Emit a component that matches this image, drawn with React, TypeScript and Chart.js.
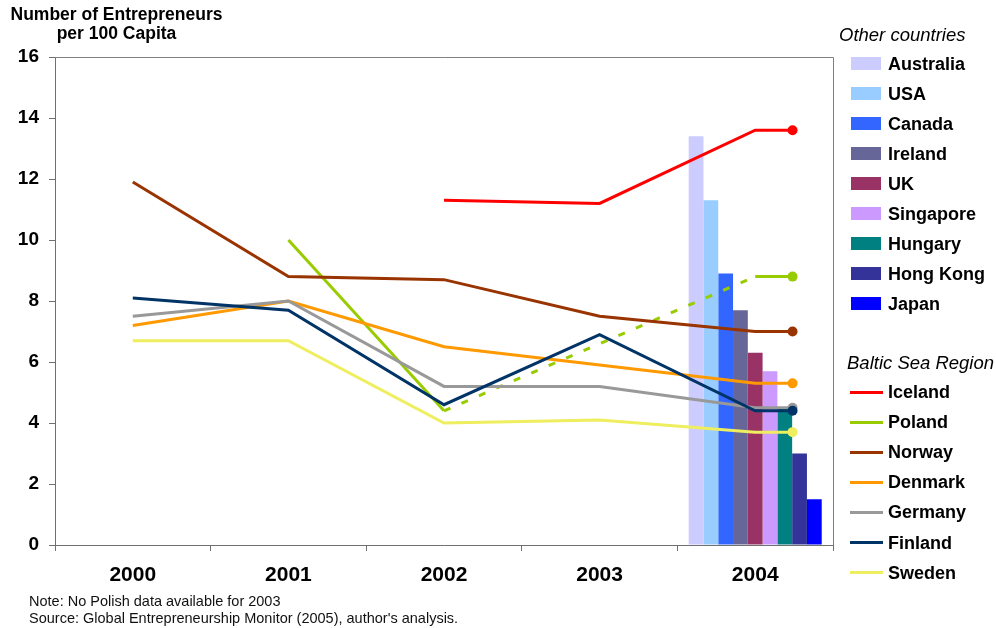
import React, { useEffect, useRef } from 'react';
import { Chart, registerables } from 'chart.js';

Chart.register(...registerables);

// ---- data ----
const YEARS = ['2000', '2001', '2002', '2003', '2004'];
const YEAR_POS = [0, 1, 2, 3, 4];
// category position of the closing marker drawn to the right of each 2004 value
const END_POS = 4.24;

const Y_MIN = 0;
const Y_MAX = 16;
const Y_STEP = 2;

// "Other countries" – 2004 only, drawn as bars
const OTHER_COUNTRIES = ['Australia', 'USA', 'Canada', 'Ireland', 'UK', 'Singapore', 'Hungary', 'Hong Kong', 'Japan'];
const OTHER_2004 = [13.4, 11.3, 8.9, 7.7, 6.3, 5.7, 4.5, 3.0, 1.5];
const OTHER_COLORS = ['#CCCCFF', '#99CCFF', '#3366FF', '#666699', '#993366', '#CC99FF', '#008080', '#333399', '#0000FF'];

// "Baltic Sea Region" – yearly lines
const BALTIC_COUNTRIES = ['Iceland', 'Poland', 'Norway', 'Denmark', 'Germany', 'Finland', 'Sweden'];
const ICELAND = [null, null, 11.3, 11.2, 13.6];
const POLAND = [null, 10.0, 4.4, null, 8.8];
const NORWAY = [11.9, 8.8, 8.7, 7.5, 7.0];
const DENMARK = [7.2, 8.0, 6.5, 5.9, 5.3];
const GERMANY = [7.5, 8.0, 5.2, 5.2, 4.5];
const FINLAND = [8.1, 7.7, 4.6, 6.9, 4.4];
const SWEDEN = [6.7, 6.7, 4.0, 4.1, 3.7];
const BALTIC_SERIES = [ICELAND, POLAND, NORWAY, DENMARK, GERMANY, FINLAND, SWEDEN];
const BALTIC_COLORS = ['#FF0000', '#99CC00', '#993300', '#FF9900', '#999999', '#003366', '#EEEE5E'];

const NOTE_LINES = [
  'Note: No Polish data available for 2003',
  "Source: Global Entrepreneurship Monitor (2005), author's analysis.",
];

const FONT = 'Arial, "Liberation Sans", sans-serif';
const AXIS_COLOR = '#707070';

// top and right edges of the plot frame
const plotFrame = {
  id: 'plotFrame',
  beforeDatasetsDraw(chart: any) {
    const { ctx, chartArea: a } = chart;
    ctx.save();
    ctx.strokeStyle = '#808080';
    ctx.lineWidth = 1;
    ctx.beginPath();
    ctx.moveTo(a.left, Math.round(a.top) + 0.5);
    ctx.lineTo(Math.round(a.right) + 0.5, Math.round(a.top) + 0.5);
    ctx.lineTo(Math.round(a.right) + 0.5, a.bottom);
    ctx.stroke();
    ctx.restore();
  },
};

// points in the category scale's own index units (parsing disabled),
// so the closing marker can sit between category centres
function buildLinePoints(values: (number | null)[]) {
  const pts = YEAR_POS.map((x, i) => ({ x, y: values[i] }));
  pts.push({ x: END_POS, y: values[values.length - 1] });
  return pts;
}

export default function App() {
  const canvasRef = useRef<HTMLCanvasElement | null>(null);

  useEffect(() => {
    const canvas = canvasRef.current;
    if (!canvas) return;

    const barSets = OTHER_COUNTRIES.map((name, i) => ({
      type: 'bar' as const,
      label: name,
      data: YEARS.map((_, k) => (k === YEARS.length - 1 ? OTHER_2004[i] : null)),
      backgroundColor: OTHER_COLORS[i],
      borderWidth: 0,
      categoryPercentage: 0.855,
      barPercentage: 1.0,
      order: 20,
    }));

    const lineSets = BALTIC_COUNTRIES.map((name, i) => {
      const values = BALTIC_SERIES[i];
      const pts = buildLinePoints(values);
      const last = pts.length - 1;
      return {
        type: 'line' as const,
        label: name,
        data: pts,
        parsing: false,
        borderColor: BALTIC_COLORS[i],
        backgroundColor: BALTIC_COLORS[i],
        borderWidth: 3,
        tension: 0,
        fill: false,
        spanGaps: true,
        pointRadius: (c: any) => (c.dataIndex === last ? 5 : 0),
        pointHoverRadius: 0,
        pointBorderWidth: 0,
        order: -i,
        segment: {
          // a missing year is bridged with a dashed segment
          borderDash: (c: any) =>
            values[c.p0DataIndex] === null || values[c.p0DataIndex] === undefined ? [7, 12] : undefined,
        },
      };
    });

    const chart = new Chart(canvas, {
      type: 'bar',
      data: {
        labels: YEARS,
        datasets: [...barSets, ...lineSets] as any,
      },
      plugins: [plotFrame],
      options: {
        responsive: false,
        maintainAspectRatio: false,
        animation: false,
        devicePixelRatio: 1,
        layout: { padding: { top: 57, right: 163, left: 0, bottom: 0 } },
        plugins: {
          legend: { display: false },
          tooltip: { enabled: false },
          title: { display: false },
        },
        scales: {
          x: {
            type: 'category',
            offset: true,
            afterFit: (s: any) => {
              s.height = 83;
            },
            grid: {
              offset: true,
              drawOnChartArea: false,
              drawTicks: true,
              tickLength: 6,
              color: AXIS_COLOR,
            },
            border: { color: AXIS_COLOR, width: 1 },
            ticks: {
              color: '#000',
              padding: 12,
              font: { family: FONT, size: 21, weight: 'bold' },
              maxRotation: 0,
            },
          },
          y: {
            type: 'linear',
            min: Y_MIN,
            max: Y_MAX,
            afterFit: (s: any) => {
              s.width = 55;
            },
            grid: {
              drawOnChartArea: false,
              drawTicks: true,
              tickLength: 6,
              color: AXIS_COLOR,
            },
            border: { color: AXIS_COLOR, width: 1 },
            ticks: {
              stepSize: Y_STEP,
              color: '#000',
              padding: 10,
              font: { family: FONT, size: 19, weight: 'bold' },
            },
          },
        },
      } as any,
    });

    return () => chart.destroy();
  }, []);

  const textBase: React.CSSProperties = {
    position: 'absolute',
    fontFamily: FONT,
    color: '#000',
    whiteSpace: 'nowrap',
  };

  const rowStyle = (centerY: number): React.CSSProperties => ({
    position: 'absolute',
    left: 850,
    top: centerY - 15,
    height: 30,
    display: 'flex',
    alignItems: 'center',
  });

  const labelStyle: React.CSSProperties = {
    position: 'absolute',
    left: 38,
    fontFamily: FONT,
    fontSize: 18,
    fontWeight: 'bold',
    color: '#000',
    whiteSpace: 'nowrap',
    lineHeight: '30px',
    top: 0,
  };

  return (
    <div style={{ position: 'fixed', left: 0, top: 0, width: 996, height: 628, background: '#fff', overflow: 'hidden' }}>
      <canvas ref={canvasRef} width={996} height={628} style={{ display: 'block', width: 996, height: 628 }} />

      {/* axis title */}
      <div
        style={{
          ...textBase,
          left: 0,
          width: 233,
          top: 5,
          textAlign: 'center',
          fontSize: 17.5,
          fontWeight: 'bold',
          lineHeight: '19px',
        }}
      >
        Number of Entrepreneurs
        <br />
        per 100 Capita
      </div>

      {/* legend: other countries */}
      <div style={{ ...textBase, left: 839, top: 23, fontSize: 18.5, fontStyle: 'italic', lineHeight: '24px' }}>
        Other countries
      </div>
      {OTHER_COUNTRIES.map((name, i) => (
        <div key={name} style={rowStyle(64 + i * 30)}>
          <div style={{ position: 'absolute', left: 1, top: 8, width: 30, height: 13, background: OTHER_COLORS[i] }} />
          <div style={labelStyle}>{name}</div>
        </div>
      ))}

      {/* legend: Baltic Sea region */}
      <div style={{ ...textBase, left: 847, top: 351, fontSize: 18.5, fontStyle: 'italic', lineHeight: '24px' }}>
        Baltic Sea Region
      </div>
      {BALTIC_COUNTRIES.map((name, i) => (
        <div key={name} style={rowStyle(392 + i * 30.1)}>
          <div style={{ position: 'absolute', left: 0, top: 13.5, width: 33, height: 3, background: BALTIC_COLORS[i] }} />
          <div style={labelStyle}>{name}</div>
        </div>
      ))}

      {/* notes */}
      {NOTE_LINES.map((line, i) => (
        <div
          key={line}
          style={{ ...textBase, left: 29, top: 593 + i * 16.5, fontSize: 14.5, lineHeight: '17px', color: '#111' }}
        >
          {line}
        </div>
      ))}
    </div>
  );
}
